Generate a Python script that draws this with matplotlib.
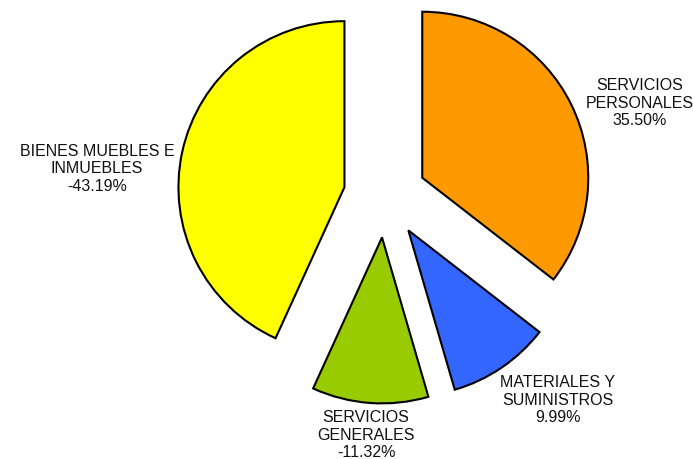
import matplotlib
matplotlib.use("Agg")
import matplotlib.pyplot as plt
import numpy as np

categories = ["SERVICIOS\nPERSONALES", "MATERIALES Y\nSUMINISTROS",
              "SERVICIOS\nGENERALES", "BIENES MUEBLES E\nINMUEBLES"]
values = [35.50, 9.99, -11.32, -43.19]
colors = ["#FF9900", "#3366FF", "#99CC00", "#FFFF00"]

# label positions in units of pie radius, relative to pie center
label_pos = [(1.536, 0.566), (1.042, -1.223), (-0.114, -1.434), (-1.735, 0.169)]

plt.rcParams['font.family'] = ['Liberation Sans', 'DejaVu Sans']

W, H = 693, 460
fig = plt.figure(figsize=(W / 100, H / 100), dpi=100)
ax = fig.add_axes([0, 0, 1, 1])

R = 166
cx, cy = 385, H - 197
ax.pie(np.abs(values), colors=colors, startangle=90, counterclock=False,
       radius=R, center=(cx, cy), explode=[0.25 * R] * 4,
       wedgeprops=dict(edgecolor="black", linewidth=1.5))
ax.set_xlim(0, W)
ax.set_ylim(0, H)
ax.set_aspect("equal")
ax.axis("off")

for cat, v, (lx, ly) in zip(categories, values, label_pos):
    ax.text(cx + lx * R, cy + ly * R, f"{cat}\n{v:.2f}%", ha="center", va="center",
            fontsize=11.5, linespacing=1.2, color="#111111")

fig.savefig("out.png", dpi=100)
